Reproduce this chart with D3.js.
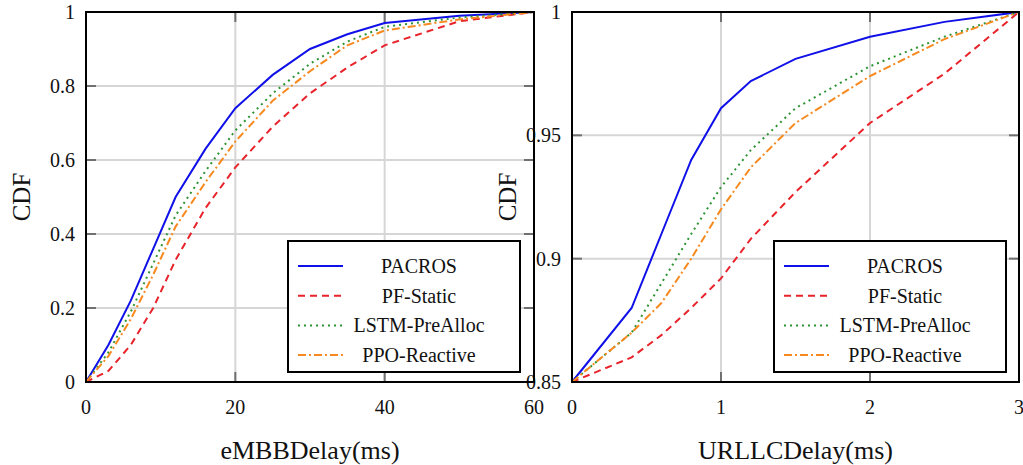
<!DOCTYPE html>
<html>
<head>
<meta charset="utf-8">
<script src="https://cdn.jsdelivr.net/npm/d3@7"></script>
<style>
  body { margin: 0; background: #fff; }
  svg text { font-family: "Liberation Serif", "DejaVu Serif", serif; fill: #111; }
</style>
</head>
<body>
<svg id="chart" width="1023" height="465"></svg>
<script>
// series names and styles for the legend
var seriesNames = ["PACROS", "PF-Static", "LSTM-PreAlloc", "PPO-Reactive"];

// eMBB panel (left)
var embbX = [0, 3, 6, 9, 12, 16, 20, 25, 30, 35, 40, 50, 60];
var embbPacros = [0, 0.10, 0.22, 0.36, 0.50, 0.63, 0.74, 0.83, 0.90, 0.94, 0.97, 0.99, 1];
var embbPf     = [0, 0.03, 0.10, 0.20, 0.33, 0.47, 0.58, 0.69, 0.78, 0.85, 0.91, 0.975, 1];
var embbLstm   = [0, 0.08, 0.19, 0.32, 0.45, 0.57, 0.68, 0.78, 0.86, 0.92, 0.96, 0.985, 1];
var embbPpo    = [0, 0.07, 0.17, 0.29, 0.42, 0.54, 0.65, 0.76, 0.84, 0.91, 0.95, 0.98, 1];
var embbXTicks = [0, 20, 40, 60];
var embbYTicks = [0, 0.2, 0.4, 0.6, 0.8, 1];

// URLLC panel (right)
var urllcX = [0, 0.4, 0.6, 0.8, 1.0, 1.2, 1.5, 2, 2.5, 3];
var urllcPacros = [0.85, 0.88, 0.91, 0.94, 0.961, 0.972, 0.981, 0.99, 0.996, 1];
var urllcPf     = [0.85, 0.86, 0.869, 0.88, 0.892, 0.908, 0.927, 0.955, 0.975, 1];
var urllcLstm   = [0.85, 0.87, 0.89, 0.91, 0.929, 0.944, 0.961, 0.978, 0.99, 1];
var urllcPpo    = [0.85, 0.87, 0.882, 0.90, 0.92, 0.937, 0.955, 0.974, 0.989, 1];
var urllcXTicks = [0, 1, 2, 3];
var urllcYTicks = [0.85, 0.9, 0.95, 1];

var styles = [
  { color: "#1010e8", dash: null },
  { color: "#e8232b", dash: "7,5" },
  { color: "#2e9433", dash: "2,4" },
  { color: "#f7891f", dash: "8,3,2,3" }
];

var svg = d3.select("#chart");

function drawPanel(p) {
  var x = d3.scaleLinear().domain(p.xDomain).range([p.left, p.right]);
  var y = d3.scaleLinear().domain(p.yDomain).range([p.bottom, p.top]);
  var g = svg.append("g");

  // grid
  g.selectAll(".gx").data(p.xTicks.slice(1, -1)).enter().append("line")
      .attr("x1", x).attr("x2", x)
      .attr("y1", p.top).attr("y2", p.bottom)
      .attr("stroke", "#d6d6d6").attr("stroke-width", 2);
  g.selectAll(".gy").data(p.yTicks.slice(1, -1)).enter().append("line")
      .attr("y1", y).attr("y2", y)
      .attr("x1", p.left).attr("x2", p.right)
      .attr("stroke", "#d6d6d6").attr("stroke-width", 2);

  // inner ticks on all four sides
  var tk = 10;
  p.xTicks.slice(1, -1).forEach(function(d) {
    g.append("line").attr("x1", x(d)).attr("x2", x(d))
        .attr("y1", p.top).attr("y2", p.top + tk)
        .attr("stroke", "#707070").attr("stroke-width", 2);
    g.append("line").attr("x1", x(d)).attr("x2", x(d))
        .attr("y1", p.bottom).attr("y2", p.bottom - tk)
        .attr("stroke", "#707070").attr("stroke-width", 2);
  });
  p.yTicks.slice(1, -1).forEach(function(d) {
    g.append("line").attr("y1", y(d)).attr("y2", y(d))
        .attr("x1", p.left).attr("x2", p.left + tk)
        .attr("stroke", "#707070").attr("stroke-width", 2);
    g.append("line").attr("y1", y(d)).attr("y2", y(d))
        .attr("x1", p.right).attr("x2", p.right - tk)
        .attr("stroke", "#707070").attr("stroke-width", 2);
  });

  // series
  var line = d3.line()
      .x(function(d) { return x(d[0]); })
      .y(function(d) { return y(d[1]); });
  p.series.forEach(function(vals, i) {
    var pts = p.xs.map(function(v, j) { return [v, vals[j]]; });
    g.append("path")
        .datum(pts)
        .attr("d", line)
        .attr("fill", "none")
        .attr("stroke", styles[i].color)
        .attr("stroke-width", 2)
        .attr("stroke-dasharray", styles[i].dash);
  });

  // tick labels
  g.selectAll(".xl").data(p.xTicks).enter().append("text")
      .attr("x", x).attr("y", p.bottom + 32)
      .attr("text-anchor", "middle")
      .style("font-size", "20px")
      .text(function(d) { return d; });
  g.selectAll(".yl").data(p.yTicks).enter().append("text")
      .attr("x", p.left - 11).attr("y", function(d) { return y(d) + 7; })
      .attr("text-anchor", "end")
      .style("font-size", "20px")
      .text(function(d) { return d; });

  // frame (drawn after labels so the neighbouring labels sit under it)
  g.append("rect")
      .attr("x", p.left).attr("y", p.top)
      .attr("width", p.right - p.left).attr("height", p.bottom - p.top)
      .attr("fill", "none").attr("stroke", "#000").attr("stroke-width", 2);

  // axis titles
  g.append("text")
      .attr("x", (p.left + p.right) / 2).attr("y", p.bottom + 77)
      .attr("text-anchor", "middle")
      .style("font-size", "26px")
      .text(p.xLabel);
  g.append("text")
      .attr("transform", "translate(" + (p.left - 56) + "," + (p.top + p.bottom) / 2 + ") rotate(-90)")
      .attr("text-anchor", "middle")
      .style("font-size", "25px")
      .text("CDF");

  // legend
  var lx = p.legendX, ly = 241, lw = 232, lh = 131;
  var lg = g.append("g");
  lg.append("rect")
      .attr("x", lx).attr("y", ly).attr("width", lw).attr("height", lh)
      .attr("fill", "#fff").attr("stroke", "#000").attr("stroke-width", 2);
  seriesNames.forEach(function(name, i) {
    var cy = ly + 25 + i * 29.7;
    lg.append("line")
        .attr("x1", lx + 10).attr("x2", lx + 55)
        .attr("y1", cy).attr("y2", cy)
        .attr("stroke", styles[i].color).attr("stroke-width", 2)
        .attr("stroke-dasharray", styles[i].dash);
    lg.append("text")
        .attr("x", lx + 131).attr("y", cy + 7)
        .attr("text-anchor", "middle")
        .style("font-size", "20px")
        .text(name);
  });
}

// right panel first: the left panel's frame runs over its y tick labels
drawPanel({
  left: 572, right: 1019, top: 12, bottom: 382,
  xDomain: [0, 3], yDomain: [0.85, 1],
  xTicks: urllcXTicks, yTicks: urllcYTicks,
  xs: urllcX, series: [urllcPacros, urllcPf, urllcLstm, urllcPpo],
  xLabel: "URLLCDelay(ms)", legendX: 774
});

drawPanel({
  left: 86, right: 534, top: 12, bottom: 382,
  xDomain: [0, 60], yDomain: [0, 1],
  xTicks: embbXTicks, yTicks: embbYTicks,
  xs: embbX, series: [embbPacros, embbPf, embbLstm, embbPpo],
  xLabel: "eMBBDelay(ms)", legendX: 288
});
</script>
</body>
</html>
